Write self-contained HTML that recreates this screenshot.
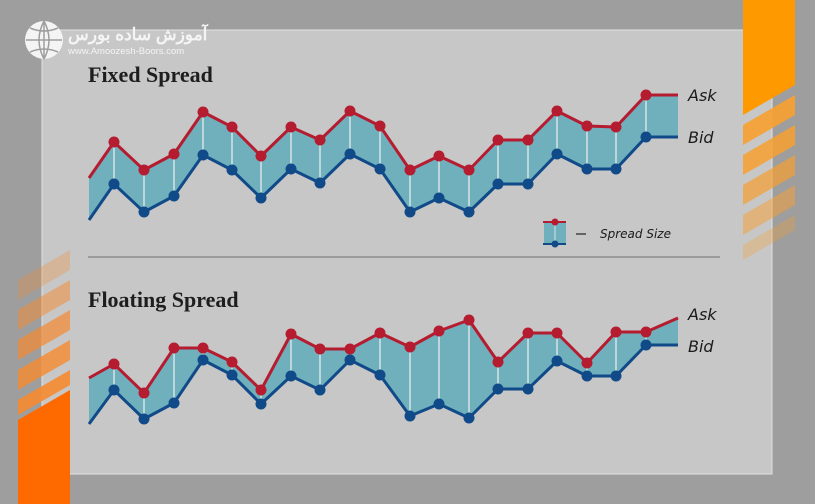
<!DOCTYPE html>
<html><head><meta charset="utf-8"><style>
html,body{margin:0;padding:0;}
body{width:815px;height:504px;overflow:hidden;background:#9e9e9e;position:relative;font-family:"Liberation Serif",serif;}
svg{position:absolute;left:0;top:0;}
</style></head><body>
<svg width="815" height="504" viewBox="0 0 815 504" xmlns="http://www.w3.org/2000/svg">
<rect x="0" y="0" width="815" height="504" fill="#9e9e9e"/>
<!-- panel -->
<rect x="42" y="30" width="730" height="444" fill="#c7c7c7" stroke="#e2e2e2" stroke-width="1"/>
<!-- right orange -->
<polygon points="743,0 795,0 795,85 743,115" fill="#ff9900"/>
<g fill="#f7a030">
<polygon points="743,125 795,95 795,115 743,145" opacity="0.9"/>
<polygon points="743,155 795,125 795,145 743,175" opacity="0.85"/>
<polygon points="743,185 795,155 795,175 743,205" opacity="0.7"/>
<polygon points="743,215 795,185 795,205 743,235" opacity="0.5"/>
<polygon points="743,245 795,215 795,230 743,260" opacity="0.3"/>
</g>
<!-- left orange -->
<polygon points="18,420 70,390 70,504 18,504" fill="#ff6a00"/>
<g fill="#f58a30">
<polygon points="18,400 70,370 70,385 18,415" opacity="0.9"/>
<polygon points="18,370 70,340 70,360 18,390" opacity="0.8"/>
<polygon points="18,340 70,310 70,330 18,360" opacity="0.7"/>
<polygon points="18,310 70,280 70,300 18,330" opacity="0.5"/>
<polygon points="18,280 70,250 70,270 18,300" opacity="0.3"/>
</g>
<line x1="88" y1="257" x2="720" y2="257" stroke="#8e8e8e" stroke-width="1.5"/>
<!-- logo -->
<circle cx="44" cy="40" r="19" fill="#f4f4f4"/>
<path d="M26,40 h36 M44,21 v38 M30,28 q14,6 28,0 M30,52 q14,-6 28,0 M44,21 q-10,19 0,38 M44,21 q10,19 0,38" stroke="#9e9e9e" stroke-width="1.5" fill="none"/>
<text x="68" y="40" font-family="'Liberation Sans','Noto Sans CJK SC',sans-serif" font-size="17" font-weight="bold" fill="#f4f4f4">آموزش ساده بورس</text>
<text x="68" y="54" font-family="'Liberation Sans',sans-serif" font-size="9.5" fill="#f4f4f4">www.Amoozesh-Boors.com</text>
<text x="88" y="82" font-size="22" font-weight="bold" fill="#1e1e1e">Fixed Spread</text>
<text x="88" y="307" font-size="22" font-weight="bold" fill="#1e1e1e">Floating Spread</text>
<g font-family="'DejaVu Sans',sans-serif" font-style="italic" fill="#1a1a1a">
<text x="688" y="101" font-size="16">Ask</text>
<text x="688" y="143" font-size="16">Bid</text>
<text x="688" y="320" font-size="16">Ask</text>
<text x="688" y="352" font-size="16">Bid</text>
<text x="600" y="238" font-size="12">Spread Size</text>
</g>
<line x1="576" y1="234" x2="586" y2="234" stroke="#222" stroke-width="1.2"/>
<!-- legend -->
<rect x="544" y="222" width="22" height="22" fill="#6fb0bc"/>
<line x1="555" y1="222" x2="555" y2="244" stroke="#d8e4e6"/>
<line x1="543" y1="222" x2="566" y2="222" stroke="#b51c30" stroke-width="2"/>
<line x1="543" y1="244" x2="566" y2="244" stroke="#114a88" stroke-width="2"/>
<circle cx="555" cy="222" r="3.5" fill="#b51c30"/><circle cx="555" cy="244" r="3.5" fill="#114a88"/>
<g id="charts"></g>
</svg>
<script>
const xs=[89,114,144,174,203,232,261,291,320,350,380,410,439,469,498,528,557,587,616,646,678];
const charts=[
{a:[178,142,170,154,112,127,156,127,140,111,126,170,156,170,140,140,111,126,127,95,95],
 b:[220,184,212,196,155,170,198,169,183,154,169,212,198,212,184,184,154,169,169,137,137]},
{a:[378,364,393,348,348,362,390,334,349,349,333,347,331,320,362,333,333,363,332,332,318],
 b:[424,390,419,403,360,375,404,376,390,360,375,416,404,418,389,389,361,376,376,345,345]}];
const NS="http://www.w3.org/2000/svg";const g=document.getElementById('charts');
function el(t,at){const e=document.createElementNS(NS,t);for(const k in at)e.setAttribute(k,at[k]);g.appendChild(e);return e;}
charts.forEach(c=>{
 const A=xs.map((x,i)=>x+','+c.a[i]),B=xs.map((x,i)=>x+','+c.b[i]);
 el('polygon',{points:A.concat(B.slice().reverse()).join(' '),fill:'#6fb0bc'});
 for(let i=1;i<xs.length-1;i++)el('line',{x1:xs[i],y1:c.a[i],x2:xs[i],y2:c.b[i],stroke:'#d6e4e6','stroke-width':1.5});
 el('polyline',{points:A.join(' '),fill:'none',stroke:'#b51c30','stroke-width':3,'stroke-linejoin':'round'});
 el('polyline',{points:B.join(' '),fill:'none',stroke:'#114a88','stroke-width':3,'stroke-linejoin':'round'});
 for(let i=1;i<xs.length-1;i++){el('circle',{cx:xs[i],cy:c.a[i],r:5.5,fill:'#b51c30'});el('circle',{cx:xs[i],cy:c.b[i],r:5.5,fill:'#114a88'});}
});
</script>
</body></html>
